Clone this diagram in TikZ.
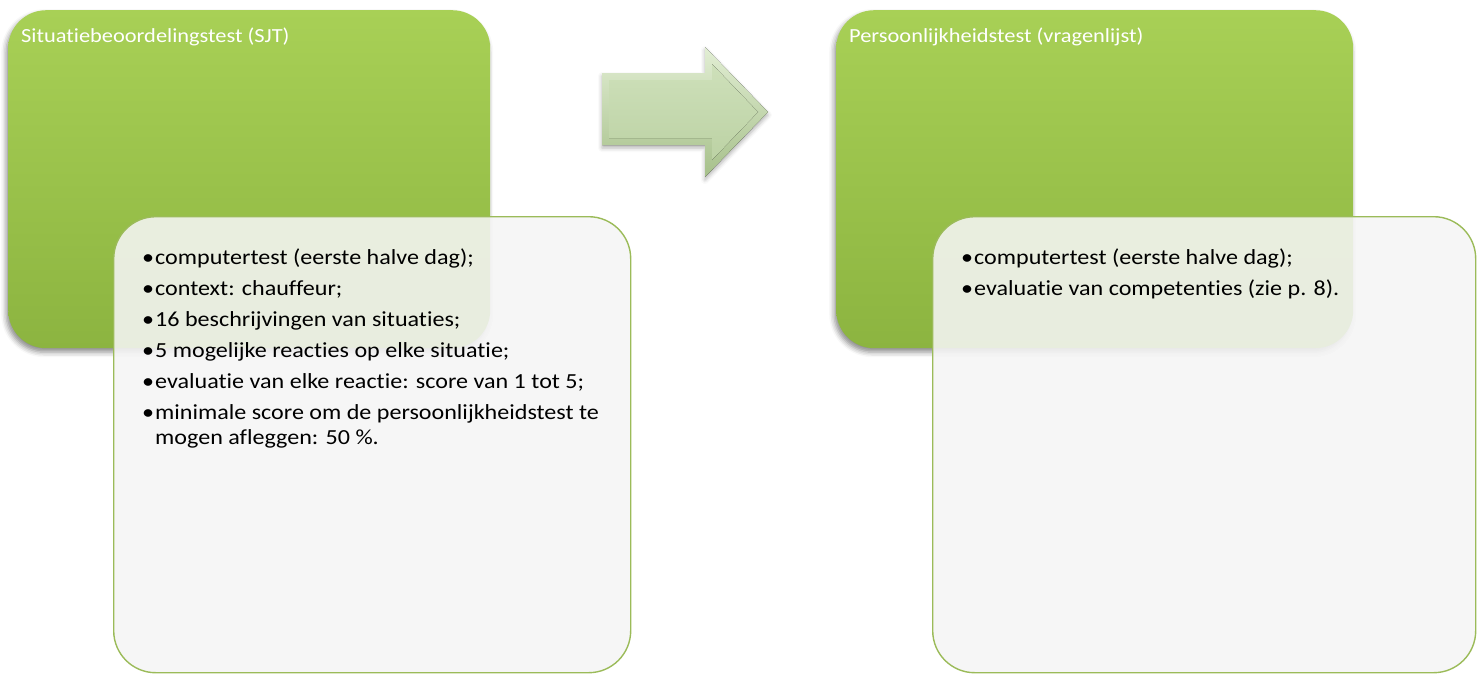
\documentclass[tikz,border=0pt]{standalone}
\usepackage{fontspec}
\setmainfont[FakeStretch=1.12, Ligatures=NoCommon]{Carlito}
\usetikzlibrary{shadows.blur}
\definecolor{gtop}{RGB}{168,208,86}
\definecolor{gbot}{RGB}{140,180,64}
\definecolor{gedge}{RGB}{155,187,89}
\definecolor{boxfill}{RGB}{245,245,245}
\definecolor{atop}{RGB}{226,238,212}
\definecolor{abot}{RGB}{166,192,138}
\definecolor{aintop}{RGB}{206,224,186}
\definecolor{ainbot}{RGB}{188,210,164}
\begin{document}
\begin{tikzpicture}[x=1pt,y=-1pt]
\tikzset{
  greenbox/.style={rectangle, rounded corners=38pt, top color=gtop, bottom color=gbot,
    draw=none, anchor=north west, inner sep=0pt,
    blur shadow={shadow xshift=-2pt, shadow yshift=-4pt, shadow blur radius=5pt, shadow opacity=45}},
  whitebox/.style={rectangle, rounded corners=42pt, fill=boxfill, fill opacity=0.88,
    draw=gedge, draw opacity=1, line width=1.4pt, anchor=north west, inner sep=0pt},
  titletext/.style={anchor=base west, inner sep=0pt, text=white, font=\fontsize{20}{24}\selectfont},
  bodytext/.style={anchor=north west, inner sep=0pt, text=black, align=left,
    font=\fontsize{21.5}{25}\selectfont},
}
\useasboundingbox (0,0) rectangle (1480,675);

% left block
\node[greenbox, minimum width=482pt, minimum height=338pt] (g1) at (8,10) {};
\node[titletext] (t1) at (21,42) {Situatiebeoordelingstest (SJT)};
\node[whitebox, minimum width=517pt, minimum height=456pt] (w1) at (113,216) {};
\node[bodytext] (b1) at (142,249) {%
\makebox[13pt][l]{•}computertest (eerste halve dag);\\[6pt]
\makebox[13pt][l]{•}context: chauffeur;\\[6pt]
\makebox[13pt][l]{•}16 beschrijvingen van situaties;\\[6pt]
\makebox[13pt][l]{•}5 mogelijke reacties op elke situatie;\\[6pt]
\makebox[13pt][l]{•}evaluatie van elke reactie: score van 1 tot 5;\\[6pt]
\makebox[13pt][l]{•}minimale score om de persoonlijkheidstest te\\
\hspace*{13pt}mogen afleggen: 50 \%.};

% arrow
\fill[top color=atop, bottom color=abot,
  blur shadow={shadow xshift=0pt, shadow yshift=-3pt, shadow blur radius=4pt, shadow opacity=30}]
  (602,73) -- (705,73) -- (705,47) -- (768,112) -- (705,177) -- (705,145) -- (602,145) -- cycle;
\fill[top color=aintop, bottom color=ainbot]
  (609,80) -- (712,80) -- (712,64) -- (758,112) -- (712,160) -- (712,138) -- (609,138) -- cycle;

% right block
\node[greenbox, minimum width=517pt, minimum height=338pt] (g2) at (836,10) {};
\node[titletext] (t2) at (849,42) {Persoonlijkheidstest (vragenlijst)};
\node[whitebox, minimum width=543pt, minimum height=456pt] (w2) at (932,216) {};
\node[bodytext] (b2) at (961,249) {%
\makebox[13pt][l]{•}computertest (eerste halve dag);\\[6pt]
\makebox[13pt][l]{•}evaluatie van competenties (zie p. 8).};
\end{tikzpicture}
\end{document}
